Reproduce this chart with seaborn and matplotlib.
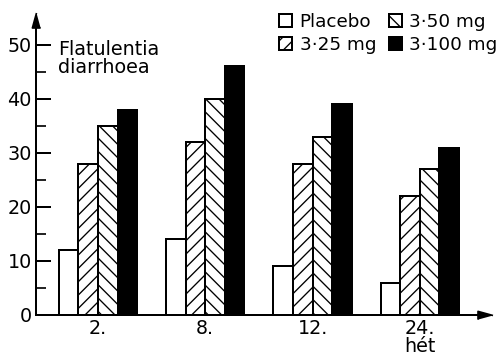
import matplotlib
matplotlib.use("Agg")
import matplotlib.pyplot as plt
from matplotlib.ticker import MultipleLocator
import seaborn as sns
import pandas as pd

# Weeks of treatment and the share of patients with flatulence / diarrhoea (%)
weeks = ["2.", "8.", "12.", "24.\nhét"]
doses = ["Placebo", "3·25 mg", "3·50 mg", "3·100 mg"]
placebo = [12, 14, 9, 6]
dose_25 = [28, 32, 28, 22]
dose_50 = [35, 40, 33, 27]
dose_100 = [38, 46, 39, 31]

series = {"Placebo": placebo, "3·25 mg": dose_25,
          "3·50 mg": dose_50, "3·100 mg": dose_100}
df = pd.DataFrame(
    [(w, d, v) for d in doses for w, v in zip(weeks, series[d])],
    columns=["week", "dose", "value"],
)

sns.set_style("ticks")
plt.rcParams["font.family"] = ["DejaVu Sans"]
plt.rcParams["text.color"] = "black"
plt.rcParams["hatch.linewidth"] = 0.8
plt.rcParams["hatch.color"] = "black"

DPI = 120
W, H = 501, 358
fig = plt.figure(figsize=(W / DPI, H / DPI), dpi=DPI)
left, right, top, bottom = 36, 485, 20, 315
ax = fig.add_axes([left / W, 1 - bottom / H, (right - left) / W, (bottom - top) / H])

sns.barplot(data=df, x="week", y="value", hue="dose", order=weeks, hue_order=doses,
            palette=["white", "white", "white", "black"], saturation=1,
            width=0.73, edgecolor="black", linewidth=1.2, ax=ax, legend=False)

hatches = ["", "///", "\\\\\\", ""]
for cont, h in zip(ax.containers, hatches):
    for p in cont.patches:
        p.set_hatch(h)

ax.set_xlim(-0.578, 3.607)
ax.set_ylim(0, 54.6)
ax.set_xlabel("")
ax.set_ylabel("")

for s in ["top", "right"]:
    ax.spines[s].set_visible(False)
for s in ["left", "bottom"]:
    ax.spines[s].set_linewidth(1.2)
    ax.spines[s].set_color("black")

ax.yaxis.set_major_locator(MultipleLocator(10))
ax.yaxis.set_minor_locator(MultipleLocator(5))
ax.tick_params(axis="y", which="major", direction="in", length=9, width=1.2,
               pad=2.5, labelsize=11.5, colors="black")
ax.tick_params(axis="y", which="minor", direction="in", length=6, width=1.2)
ax.tick_params(axis="x", length=0, pad=2.4, labelsize=11.5, colors="black")
for lab in ax.get_xticklabels():
    lab.set_linespacing(0.95)

# arrow heads on both axes
ax.plot([0], [1], marker=[(0, 1), (-0.55, -1), (0.55, -1)], markersize=9,
        color="black", transform=ax.transAxes, clip_on=False)
ax.plot([1], [0], marker=[(1, 0), (-1, 0.55), (-1, -0.55)], markersize=9,
        color="black", transform=ax.transAxes, clip_on=False)

fig.text(58 / W, 1 - 40 / H, "Flatulentia\ndiarrhoea", fontsize=11.5,
         ha="left", va="top", linespacing=0.92)

ax.legend(ax.containers, doses, ncol=2, frameon=False, fontsize=11,
          loc="upper left", bbox_to_anchor=(279 / W, 1 - 13 / H),
          bbox_transform=fig.transFigure, borderpad=0, borderaxespad=0,
          handlelength=0.72, handleheight=0.72, handletextpad=0.4,
          columnspacing=0.68, labelspacing=0.28)

fig.savefig("out.png", dpi=DPI)
